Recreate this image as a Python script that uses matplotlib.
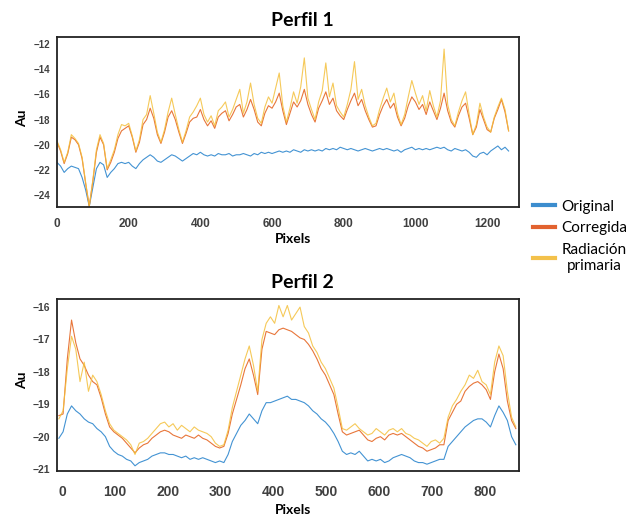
import numpy as np
import matplotlib
matplotlib.use('Agg')
import matplotlib.pyplot as plt
from matplotlib.lines import Line2D

# Perfil 1 (sampled every 10 pixels from 0)
P1_STEP = 10
p1_original = [
    -21.4, -21.7, -22.2, -21.9, -21.7, -21.8, -21.9, -22.6, -23.6, -24.9,
    -23.4, -21.9, -21.4, -21.6, -22.6, -22.2, -21.9, -21.5, -21.4, -21.5,
    -21.4, -21.7, -21.9, -21.5, -21.2, -21.0, -20.8, -21.0, -21.3, -21.4,
    -21.2, -21.0, -20.8, -20.9, -21.1, -21.3, -21.1, -20.9, -20.7, -20.8,
    -20.6, -20.8, -20.9, -20.8, -20.9, -20.7, -20.8, -20.8, -20.7, -20.9,
    -20.8, -20.8, -20.7, -20.8, -20.9, -20.7, -20.8, -20.6, -20.7, -20.6,
    -20.7, -20.6, -20.5, -20.6, -20.5, -20.6, -20.4, -20.5, -20.6, -20.4,
    -20.5, -20.4, -20.5, -20.4, -20.5, -20.3, -20.4, -20.3, -20.4, -20.2,
    -20.3, -20.4, -20.3, -20.4, -20.5, -20.4, -20.3, -20.4, -20.5, -20.4,
    -20.3, -20.4, -20.3, -20.4, -20.5, -20.4, -20.6, -20.4, -20.3, -20.2,
    -20.4, -20.3, -20.4, -20.3, -20.4, -20.3, -20.2, -20.3, -20.2, -20.4,
    -20.5, -20.3, -20.4, -20.5, -20.4, -20.6, -20.9, -21.0, -20.7, -20.6,
    -20.8, -20.5, -20.3, -20.1, -20.4, -20.2, -20.5]
p1_corregida = [
    -19.8, -20.5, -21.5, -20.7, -19.4, -19.6, -20.0, -21.1, -23.1, -24.9,
    -22.9, -20.6, -19.4, -20.0, -22.0, -21.4, -20.6, -19.5, -18.9, -18.7,
    -18.5, -19.4, -20.6, -19.8, -18.4, -18.0, -17.1, -17.9, -19.2, -19.9,
    -19.0, -17.8, -17.3, -18.0, -19.0, -19.9, -19.1, -18.2, -17.9, -17.8,
    -17.2, -18.0, -18.5, -18.1, -18.7, -17.8, -17.5, -17.3, -18.1, -17.6,
    -17.0, -16.8, -17.8, -17.2, -16.4, -17.2, -18.2, -18.5, -17.5, -16.9,
    -17.1, -16.6, -15.9, -17.3, -18.4, -17.5, -16.6, -17.0, -16.5, -15.6,
    -16.8, -17.6, -18.2, -17.1, -16.5, -15.8, -16.8, -16.3, -17.3, -17.7,
    -18.0, -17.2, -16.5, -15.9, -16.9, -16.4, -17.3, -18.0, -18.6, -18.5,
    -17.6, -16.9, -16.4, -17.1, -16.7, -17.8, -18.5, -17.9, -16.9, -16.2,
    -16.6, -17.2, -16.8, -17.6, -16.6, -17.3, -18.0, -17.1, -15.9, -17.3,
    -18.2, -18.6, -17.7, -17.0, -16.7, -17.9, -19.2, -18.6, -17.2, -18.0,
    -18.8, -19.0, -17.9, -17.2, -16.4, -17.4, -18.9]
p1_radiacion = [
    -19.7, -20.4, -21.4, -20.6, -19.2, -19.5, -19.9, -21.0, -23.0, -24.9,
    -22.8, -20.4, -19.2, -19.9, -21.9, -21.2, -20.4, -19.2, -18.4, -18.5,
    -18.3, -19.3, -20.5, -19.6, -18.0, -17.6, -16.1, -17.5, -19.0, -19.8,
    -18.8, -17.4, -16.3, -17.6, -18.8, -19.8, -18.9, -17.8, -17.4, -16.9,
    -16.3, -17.6, -18.2, -17.7, -18.5, -17.3, -17.0, -16.6, -17.8, -17.2,
    -16.4, -15.6, -17.5, -16.6, -15.1, -16.8, -17.9, -18.3, -17.0, -16.2,
    -16.7, -15.5, -14.3, -16.9, -18.2, -17.1, -15.8, -16.7, -15.4, -13.1,
    -16.3, -17.2, -18.0, -16.6, -15.7, -13.5, -16.2, -15.1, -16.9, -17.4,
    -17.8, -16.8, -15.6, -13.4, -16.4, -15.6, -16.9, -17.8, -18.5, -18.3,
    -17.2, -16.3, -15.5, -16.6, -15.9, -17.5, -18.4, -17.6, -16.2, -14.9,
    -15.9, -16.8, -16.1, -17.3, -15.7, -16.9, -17.8, -16.5, -12.4, -16.8,
    -18.0, -18.5, -17.4, -16.5, -15.8, -17.6, -19.2, -18.4, -16.7, -17.8,
    -18.6, -19.0, -17.8, -17.0, -16.3, -17.2, -18.9]

# Perfil 2 (sampled every 8 pixels from -6)
P2_START = -6
P2_STEP = 8
p2_original = [
    -20.05, -19.85, -19.3, -19.05, -19.2, -19.3, -19.45, -19.55, -19.6, -19.75,
    -19.85, -20.0, -20.3, -20.45, -20.55, -20.6, -20.7, -20.75, -20.9, -20.8,
    -20.75, -20.7, -20.6, -20.55, -20.5, -20.5, -20.55, -20.55, -20.6, -20.65,
    -20.6, -20.7, -20.65, -20.7, -20.65, -20.7, -20.75, -20.8, -20.75, -20.8,
    -20.55, -20.15, -19.9, -19.65, -19.5, -19.3, -19.45, -19.6, -19.2, -18.95,
    -18.95, -18.9, -18.85, -18.8, -18.75, -18.85, -18.85, -18.9, -18.95, -19.05,
    -19.2, -19.3, -19.45, -19.55, -19.7, -19.9, -20.15, -20.45, -20.55, -20.5,
    -20.55, -20.45, -20.6, -20.75, -20.7, -20.75, -20.7, -20.8, -20.75, -20.65,
    -20.6, -20.55, -20.6, -20.65, -20.75, -20.8, -20.8, -20.85, -20.8, -20.75,
    -20.7, -20.7, -20.3, -20.15, -20.0, -19.85, -19.7, -19.6, -19.5, -19.45,
    -19.45, -19.55, -19.7, -19.35, -19.05, -19.25, -19.5, -20.0, -20.25]
p2_corregida = [
    -19.35, -19.3, -17.6, -16.4, -17.1, -17.6, -17.8, -18.1, -18.3, -18.4,
    -18.8, -19.3, -19.7, -19.85, -19.95, -20.05, -20.2, -20.35, -20.5, -20.35,
    -20.25, -20.2, -20.05, -19.95, -19.85, -19.8, -19.85, -19.95, -20.0, -20.05,
    -19.95, -20.0, -20.05, -19.95, -20.05, -20.1, -20.2, -20.3, -20.35, -20.3,
    -19.9, -19.3, -18.85, -18.4, -17.9, -17.6, -18.1, -18.7, -17.3, -16.75,
    -16.8, -16.85, -16.7, -16.65, -16.7, -16.75, -16.85, -16.95, -17.0, -17.15,
    -17.35, -17.6, -17.9, -18.1, -18.4, -18.7, -19.3, -19.85, -19.95, -19.9,
    -19.85, -19.8, -19.95, -20.1, -20.15, -20.05, -20.0, -20.1, -19.95, -19.9,
    -19.95, -19.9, -20.0, -20.1, -20.2, -20.3, -20.35, -20.45, -20.4, -20.35,
    -20.25, -20.25, -19.5, -19.25, -19.0, -18.9, -18.6, -18.45, -18.35, -18.3,
    -18.4, -18.55, -18.85, -18.0, -17.45, -17.9, -18.9, -19.5, -19.75]
p2_radiacion = [
    -19.45, -19.2, -17.9, -16.9, -17.3, -18.3, -17.7, -18.6, -18.1, -18.3,
    -18.7, -19.2, -19.6, -19.8, -19.9, -20.0, -20.1, -20.25, -20.55, -20.2,
    -20.15, -20.05, -19.9, -19.75, -19.6, -19.55, -19.7, -19.6, -19.8, -19.65,
    -19.75, -19.85, -19.7, -19.8, -19.85, -19.9, -20.0, -20.2, -20.3, -20.25,
    -19.8, -19.1, -18.6, -18.1, -17.6, -17.2, -17.8, -18.6, -17.0, -16.5,
    -16.3, -16.5, -15.95, -16.3, -15.95, -16.4, -16.2, -16.0, -16.6, -16.8,
    -17.2, -17.4, -17.7, -17.9, -18.2, -18.5, -19.1, -19.75, -19.8, -19.7,
    -19.6, -19.75, -19.85, -19.95, -19.9, -19.75, -19.85, -19.95, -19.8, -19.75,
    -19.85, -19.75, -19.9, -19.95, -20.05, -20.1, -20.2, -20.3, -20.15, -20.1,
    -20.2, -20.05, -19.4, -19.05, -18.85, -18.6, -18.4, -18.1, -18.2, -17.95,
    -18.3, -18.4, -18.7, -17.7, -17.2, -17.5, -18.6, -19.4, -19.7]

LABELS = ['Original', 'Corregida', 'Radiación\nprimaria']
LINE_COLORS = ['#4393d3', '#e8763a', '#f4c03c']
LEG_COLORS = ['#3c8dce', '#e2622f', '#f3c14b']

TICK_COL = '#404040'

fig = plt.figure(figsize=(6.4,5.19),dpi=100,facecolor='w')
ax1 = fig.add_axes([57/640,1-207/519,462/640,170/519])
ax2 = fig.add_axes([57/640,1-471/519,462/640,172/519])

x1 = np.arange(len(p1_original))*P1_STEP
x2 = P2_START+np.arange(len(p2_original))*P2_STEP

for ax,x,series in [(ax1,x1,[p1_original,p1_corregida,p1_radiacion]),
                    (ax2,x2,[p2_original,p2_corregida,p2_radiacion])]:
    ax.plot(x,series[0],color=LINE_COLORS[0],lw=0.8)
    ax.plot(x,series[1],color=LINE_COLORS[1],lw=0.8)
    ax.plot(x,series[2],color=LINE_COLORS[2],lw=0.8,alpha=0.85)
    for s in ax.spines.values():
        s.set_linewidth(1.3)
        s.set_color('#222222')
    ax.tick_params(length=0,colors=TICK_COL)

ax1.set_xlim(0,1289)
ax1.set_ylim(-24.95,-11.44)
ax1.set_xticks([0,200,400,600,800,1000,1200])
ax1.set_yticks([-12,-14,-16,-18,-20,-22,-24])
ax1.tick_params(axis='x',labelsize=8.5,pad=8)
ax1.tick_params(axis='y',labelsize=7,pad=5)

ax2.set_xlim(-9.5,864)
ax2.set_ylim(-21.06,-15.75)
ax2.set_xticks([0,100,200,300,400,500,600,700,800])
ax2.set_yticks([-16,-17,-18,-19,-20,-21])
ax2.tick_params(axis='x',labelsize=10,pad=10)
ax2.tick_params(axis='y',labelsize=7.5,pad=5)

for ax in (ax1,ax2):
    for lab in ax.get_xticklabels()+ax.get_yticklabels():
        lab.set_fontweight('bold')
        lab.set_family('Liberation Sans')

tfont = dict(family='Lato',fontweight='bold',ha='center',va='center')
fig.text(302/640,1-20/519,'Perfil 1',fontsize=14,**tfont)
fig.text(302/640,1-283/519,'Perfil 2',fontsize=14,**tfont)
fig.text(293/640,1-239/519,'Pixels',fontsize=10,**tfont)
fig.text(293/640,1-510/519,'Pixels',fontsize=10,**tfont)
fig.text(22/640,1-118/519,'Au',fontsize=10,rotation=90,**tfont)
fig.text(22/640,1-380/519,'Au',fontsize=10,rotation=90,**tfont)

handles = [Line2D([],[],color=c,lw=3) for c in LEG_COLORS]
leg = fig.legend(handles,LABELS,loc='upper left',bbox_to_anchor=(0.812,0.642),
                 frameon=False,handlelength=1.4,handletextpad=0.45,labelspacing=0.5,
                 prop={'family':'Lato','size':11})
leg.get_texts()[2].set_multialignment('center')

fig.savefig('out.png',dpi=100,facecolor='w')
